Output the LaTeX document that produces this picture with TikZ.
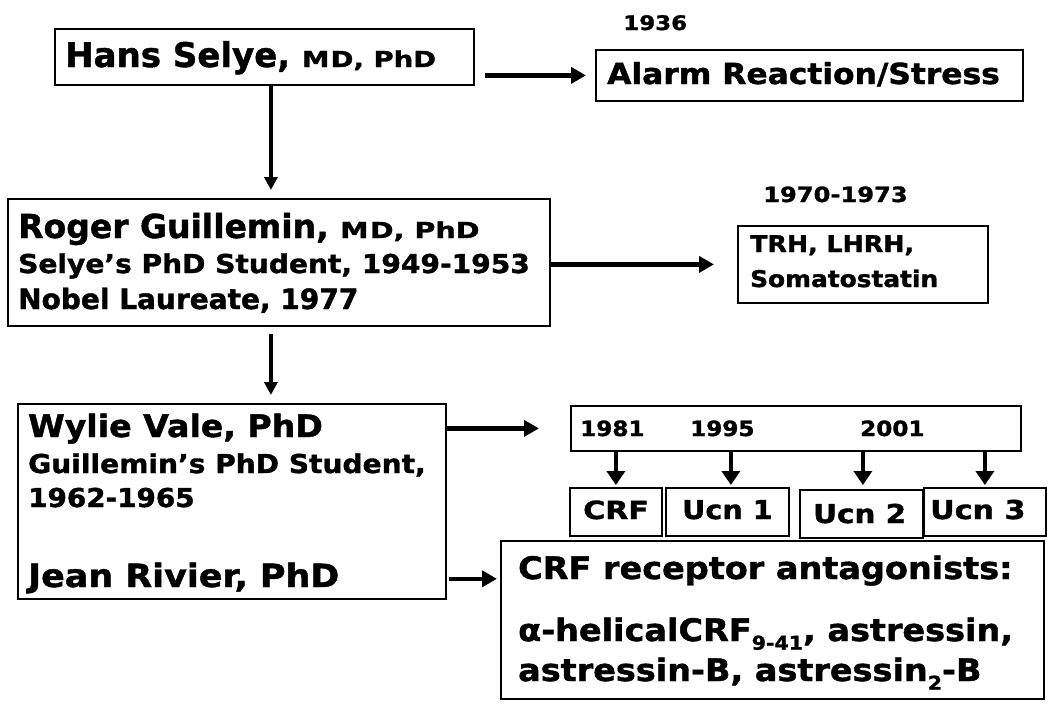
\documentclass[tikz,border=0pt]{standalone}
\usepackage{fontspec}
\usepackage{graphicx}
\setmainfont{DejaVu Sans}[BoldFeatures={FakeBold=1.3}]
\usetikzlibrary{arrows.meta,calc}
\newcommand{\hsc}[2]{\scalebox{#1}[1]{#2}}
\newcommand{\fsz}[1]{\fontsize{#1}{#1}\selectfont}
\begin{document}
\begin{tikzpicture}[x=1pt,y=-1pt,
  box/.style={draw, line width=1.8pt, inner sep=0pt, anchor=north west, fill=white},
  txt/.style={inner sep=0pt, anchor=base west, font=\bfseries},
  arr/.style={line width=4.5pt, -{Triangle[length=15pt,width=16pt]}},
  varr/.style={line width=4pt, -{Triangle[length=13pt,width=13pt]}},
  tarr/.style={line width=4.5pt, -{Triangle[length=14pt,width=18pt]}}]
\useasboundingbox (0,0) rectangle (1050,705);
% boxes
\node[box, minimum width=419, minimum height=56] (selye) at (54,28) {};
\node[box, minimum width=427, minimum height=51] (alarm) at (595,49) {};
\node[box, minimum width=542, minimum height=127] (guill) at (7,198) {};
\node[box, minimum width=250, minimum height=77] (trh) at (737,225) {};
\node[box, minimum width=428, minimum height=195] (wylie) at (17,403) {};
\node[box, minimum width=450, minimum height=45] (tl) at (570,405) {};
\node[box, minimum width=92, minimum height=48] (crf) at (569,487) {};
\node[box, minimum width=123, minimum height=48] (ucn1) at (665,487) {};
\node[box, minimum width=123, minimum height=48] (ucn2) at (799,489) {};
\node[box, minimum width=122, minimum height=48] (ucn3) at (923,487) {};
\node[box, minimum width=543, minimum height=158] (rec) at (500,540) {};
% texts
\node[txt] (selyeT) at (65,67) {\fsz{34}Hans Selye, \hsc{1.25}{\fsz{22}M\kern1pt D, PhD}};
\node[txt] (y1936) at (623,30) {\hsc{1.15}{\fsz{20}1936}};
\node[txt] (alarmT) at (607,84) {\hsc{1.08}{\fsz{29}Alarm Reaction/Stress}};
\node[txt] (guillA) at (18,238) {\fsz{33}Roger Guillemin, \hsc{1.3}{\fsz{22}M\kern1pt D, PhD}};
\node[txt] (guillB) at (18,273) {\hsc{1.08}{\fsz{26}Selye’s PhD Student, 1949-1953}};
\node[txt] (guillC) at (18,309) {\fsz{28}Nobel Laureate, 1977};
\node[txt] (y1970) at (763,202) {\hsc{1.15}{\fsz{21}1970-1973}};
\node[txt] (trhA) at (750,252) {\hsc{1.1}{\fsz{23}TRH, LHRH,}};
\node[txt] (trhB) at (750,287) {\hsc{1.08}{\fsz{23}Somatostatin}};
\node[txt] (wylA) at (28,437) {\hsc{1.07}{\fsz{31}Wylie Vale, PhD}};
\node[txt] (wylB) at (28,473) {\hsc{1.08}{\fsz{26}Guillemin’s PhD Student,}};
\node[txt] (wylC) at (28,507) {\hsc{1.07}{\fsz{26}1962-1965}};
\node[txt] (wylD) at (28,587) {\hsc{1.09}{\fsz{32}Jean Rivier, PhD}};
\node[txt] (y1981) at (580,436) {\hsc{1.1}{\fsz{21}1981}};
\node[txt] (y1995) at (690,436) {\hsc{1.1}{\fsz{21}1995}};
\node[txt] (y2001) at (860,436) {\hsc{1.1}{\fsz{21}2001}};
\node[txt] (crfT) at (583,519) {\hsc{1.2}{\fsz{25}CRF}};
\node[txt] (ucn1T) at (682,519) {\hsc{1.1}{\fsz{26}Ucn 1}};
\node[txt] (ucn2T) at (813,523) {\hsc{1.13}{\fsz{26}Ucn 2}};
\node[txt] (ucn3T) at (930,519) {\hsc{1.16}{\fsz{26}Ucn 3}};
\node[txt] (recA) at (518,579) {\hsc{1.08}{\fsz{31}CRF receptor antagonists:}};
\node[txt] (recB) at (518,641) {\hsc{1.08}{\fsz{31}α-helicalCRF\raisebox{-0.28em}{\fsz{19}9-41}, astressin,}};
\node[txt] (recC) at (518,681) {\hsc{1.08}{\fsz{31}astressin-B, astressin\raisebox{-0.28em}{\fsz{19}2}-B}};
% connectors
\draw[arr, shorten <=10pt, shorten >=9pt] (selye.east |- alarm.west) -- (alarm.west);
\draw[varr, shorten >=8pt] ([xshift=6.5pt]selye.south) -- ([xshift=6.5pt]selye.south |- guill.north);
\draw[arr, shorten >=23pt] (guill.east |- trh.west) -- (trh.west);
\draw[varr, shorten <=7pt, shorten >=8pt] ([xshift=-8pt]guill.south) -- ([xshift=-8pt]guill.south |- wylie.north);
\draw[arr, shorten >=31pt] (wylie.east |- tl.west) -- (tl.west);
\draw[arr, shorten <=2pt, shorten >=3pt] ([yshift=21pt]wylie.south east) -- ([yshift=21pt]wylie.south east -| rec.west);
\draw[tarr, shorten >=2pt] (tl.south -| crf.north) -- (crf.north);
\draw[tarr, shorten >=2pt] ([xshift=3.5pt]tl.south -| ucn1.north) -- ([xshift=3.5pt]ucn1.north);
\draw[tarr, shorten >=4pt] ([xshift=1.5pt]tl.south -| ucn2.north) -- ([xshift=1.5pt]ucn2.north);
\draw[tarr, shorten >=2pt] (tl.south -| ucn3.north) -- (ucn3.north);
\end{tikzpicture}
\end{document}
